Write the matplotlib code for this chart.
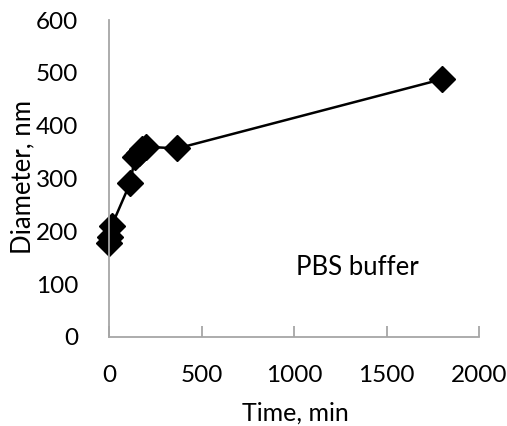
import matplotlib
matplotlib.use("Agg")
import matplotlib.pyplot as plt

time_min = [0, 5, 15, 115, 140, 160, 180, 200, 370, 1800]
diameter_nm = [178, 190, 211, 292, 340, 348, 356, 360, 357, 488]
x_ticks = [0, 500, 1000, 1500, 2000]
y_ticks = [0, 100, 200, 300, 400, 500, 600]

plt.rcParams['font.family'] = ['Lato', 'DejaVu Sans']
fig = plt.figure(figsize=(5.07, 4.26), dpi=100)
ax = fig.add_axes([0.215, 0.209, 0.73, 0.744])
ax.plot(time_min, diameter_nm, color='black', lw=1.8, marker='D', ms=13,
        markerfacecolor='black', markeredgecolor='black', clip_on=False)
ax.set_xlim(0, 2000)
ax.set_ylim(0, 600)
ax.set_xticks(x_ticks)
ax.set_yticks(y_ticks)
for s in ['top', 'right']:
    ax.spines[s].set_visible(False)
for s in ['left', 'bottom']:
    ax.spines[s].set_color('#a6a6a6')
    ax.spines[s].set_linewidth(1.3)
ax.tick_params(axis='x', direction='in', length=8, color='#a6a6a6', width=1.3, pad=20, labelsize=17.5)
ax.tick_params(axis='y', length=0, pad=22, labelsize=17.5)
fig.text(0.582, 0.031, 'Time, min', fontsize=18, ha='center', va='center')
fig.text(0.045, 0.584, 'Diameter, nm', fontsize=18.5, ha='center', va='center', rotation=90)
ax.text(1340, 132, 'PBS buffer', fontsize=18.5, ha='center', va='center')
fig.savefig('out.png', dpi=100)
